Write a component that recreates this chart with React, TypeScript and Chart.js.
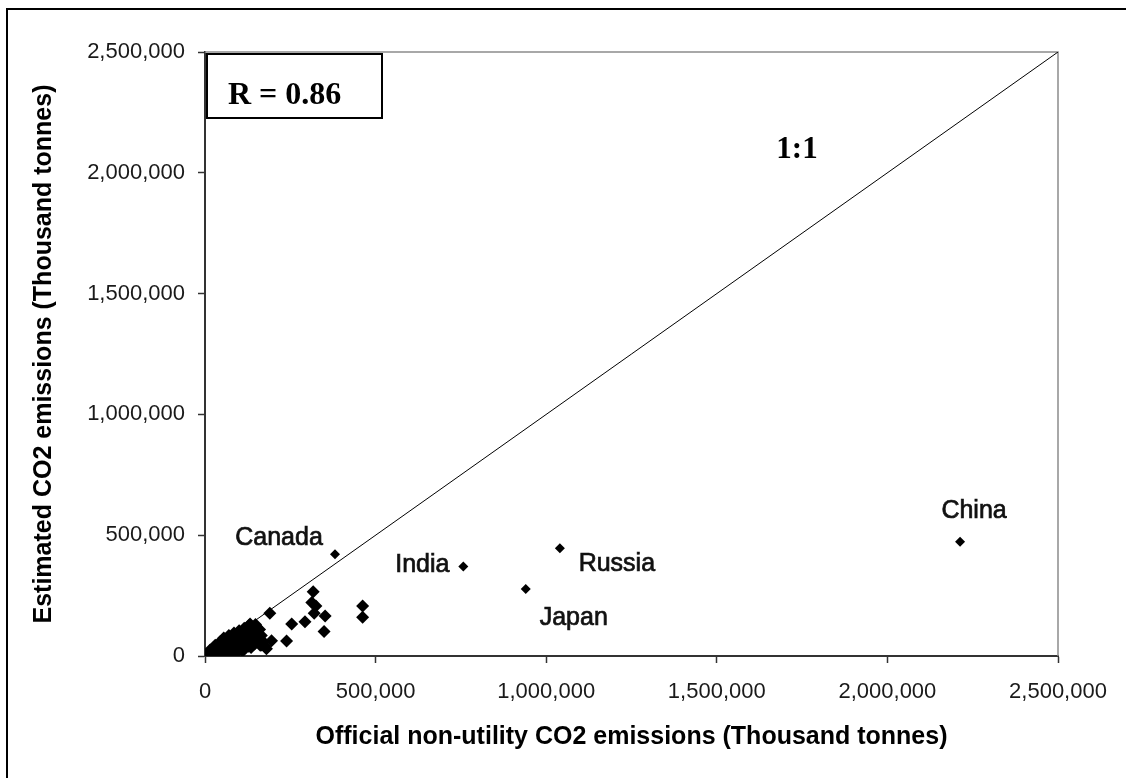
import React, { useEffect, useRef } from "react";
import { Chart, registerables } from "chart.js";

Chart.register(...registerables);

// ---- Data (thousand tonnes) ----
const axisMin = 0;
const axisMax = 2500000;
const axisStep = 500000;

const countryNames = ["Canada", "India", "Japan", "Russia", "China"];
const countryOfficial = [381000, 757000, 940000, 1040000, 2213000];
const countryEstimated = [421000, 370000, 277000, 446000, 473000];

const otherOfficial = [
  2000, 5000, 8000, 10000, 12000, 15000, 18000, 20000, 22000, 25000, 28000, 30000,
  32000, 35000, 38000, 40000, 42000, 45000, 48000, 50000, 52000, 55000, 58000, 60000,
  62000, 65000, 68000, 70000, 72000, 75000, 78000, 80000, 82000, 85000, 88000, 90000,
  92000, 95000, 98000, 100000, 105000, 108000, 110000, 115000, 118000, 120000, 125000,
  128000, 130000, 135000, 138000, 140000, 145000, 148000, 150000, 155000, 160000,
  162000, 165000, 170000, 175000, 180000,
  15000, 25000, 30000, 45000, 55000, 70000, 85000, 100000, 115000, 128000, 60000, 40000,
  110000, 135000, 90000, 75000,
  190000, 195000, 239000, 254000, 293000, 317000, 313000, 325000, 320000, 352000,
  349000, 462000, 462000, 166000, 132000, 151000, 155000,
];
const otherEstimated = [
  1000, 3000, 6000, 4000, 10000, 8000, 14000, 5000, 18000, 12000, 22000, 8000,
  26000, 15000, 30000, 20000, 10000, 35000, 25000, 40000, 15000, 30000, 45000, 20000,
  50000, 35000, 55000, 25000, 45000, 60000, 40000, 65000, 30000, 50000, 70000, 20000,
  58000, 75000, 45000, 80000, 60000, 35000, 85000, 70000, 50000, 95000, 80000,
  40000, 110000, 65000, 120000, 90000, 50000, 130000, 100000, 75000, 110000,
  45000, 85000, 60000, 40000, 30000,
  25000, 35000, 45000, 60000, 75000, 85000, 95000, 105000, 115000, 125000, 10000, 5000,
  20000, 35000, 10000, 8000,
  177000, 63000, 62000, 132000, 142000, 266000, 221000, 207000, 177000, 166000,
  101000, 207000, 160000, 46000, 132000, 121000, 87000,
];

const oneToOneX = [0, 2500000];
const oneToOneY = [0, 2500000];

const correlationText = "R = 0.86";
const oneToOneText = "1:1";
const xTitle = "Official non-utility CO2 emissions (Thousand tonnes)";
const yTitle = "Estimated CO2 emissions (Thousand tonnes)";

// label placement relative to its point (pixels)
const labelOffsets: Record<string, [number, number]> = {
  Canada: [-56, -16],
  India: [-41, -1],
  Japan: [48, 29],
  Russia: [57, 16],
  China: [14, -31],
};

const SANS = "'Liberation Sans', Arial, sans-serif";
const SERIF = "'Liberation Serif', 'Times New Roman', serif";

const fmt = (v: number) => Number(v).toLocaleString("en-US");

export default function App() {
  const ref = useRef<HTMLCanvasElement | null>(null);

  useEffect(() => {
    document.body.style.margin = "0";
    const canvas = ref.current;
    if (!canvas) return;

    const decor = {
      id: "decor",
      beforeDraw(chart: any) {
        const { ctx, width, height } = chart;
        ctx.save();
        ctx.fillStyle = "#fff";
        ctx.fillRect(0, 0, width, height);
        ctx.strokeStyle = "#000";
        ctx.lineWidth = 2;
        ctx.strokeRect(7, 9, width + 20, height + 20);
        ctx.restore();
      },
      beforeDatasetsDraw(chart: any) {
        const { ctx, chartArea: a } = chart;
        ctx.save();
        ctx.strokeStyle = "#8c8c8c";
        ctx.lineWidth = 1.5;
        ctx.beginPath();
        ctx.moveTo(a.left, a.top);
        ctx.lineTo(a.right, a.top);
        ctx.lineTo(a.right, a.bottom);
        ctx.stroke();
        ctx.restore();
      },
      afterDraw(chart: any) {
        const { ctx, chartArea: a, scales } = chart;
        ctx.save();
        // R box
        ctx.fillStyle = "#fff";
        ctx.fillRect(a.left + 2, a.top + 2, 175, 64);
        ctx.strokeStyle = "#000";
        ctx.lineWidth = 2;
        ctx.strokeRect(a.left + 2, a.top + 2, 175, 64);
        ctx.fillStyle = "#000";
        ctx.font = `bold 32px ${SERIF}`;
        ctx.textAlign = "left";
        ctx.textBaseline = "alphabetic";
        ctx.fillText(correlationText, a.left + 23, a.top + 52);
        // 1:1
        ctx.textAlign = "center";
        ctx.textBaseline = "middle";
        ctx.font = `bold 31px ${SERIF}`;
        ctx.fillText(oneToOneText, 797, 150);
        // country labels
        ctx.font = `25px ${SANS}`;
        ctx.fillStyle = "#111";
        ctx.strokeStyle = "#111";
        ctx.lineWidth = 0.7;
        countryNames.forEach((name, i) => {
          const px = scales.x.getPixelForValue(countryOfficial[i]);
          const py = scales.y.getPixelForValue(countryEstimated[i]);
          const [dx, dy] = labelOffsets[name];
          ctx.fillText(name, px + dx, py + dy);
          ctx.strokeText(name, px + dx, py + dy);
        });
        ctx.restore();
      },
    };

    const tickFont = { family: SANS, size: 22 };
    const titleFont = { family: SANS, size: 25, weight: "bold" as const };

    const chart = new Chart(canvas, {
      type: "scatter",
      data: {
        datasets: [
          {
            type: "line",
            data: oneToOneX.map((x, i) => ({ x, y: oneToOneY[i] })),
            borderColor: "#000",
            borderWidth: 1,
            pointRadius: 0,
            fill: false,
          } as any,
          {
            data: otherOfficial.map((x, i) => ({ x, y: otherEstimated[i] })),
            pointStyle: "rectRot",
            pointRadius: 6.5,
            backgroundColor: "#000",
            borderColor: "#000",
            borderWidth: 0,
          },
          {
            data: countryOfficial.map((x, i) => ({ x, y: countryEstimated[i] })),
            pointStyle: "rectRot",
            pointRadius: 5,
            backgroundColor: "#000",
            borderColor: "#000",
            borderWidth: 0,
          },
        ],
      },
      options: {
        animation: false,
        responsive: false,
        maintainAspectRatio: false,
        layout: { padding: { top: 52, right: 68, bottom: 0, left: 0 } },
        plugins: { legend: { display: false }, tooltip: { enabled: false } },
        scales: {
          x: {
            type: "linear",
            min: axisMin,
            max: axisMax,
            afterFit: (s: any) => {
              s.height = 122;
            },
            ticks: {
              stepSize: axisStep,
              callback: (v: any) => fmt(v),
              font: tickFont,
              color: "#1a1a1a",
              padding: 16,
              maxRotation: 0,
            },
            grid: {
              drawOnChartArea: false,
              drawTicks: true,
              tickLength: 7,
              tickColor: "#333",
              tickWidth: 1.5,
            },
            border: { display: true, color: "#333", width: 2 },
            title: {
              display: true,
              text: xTitle,
              font: titleFont,
              color: "#000",
              padding: { top: 0, bottom: 26 },
            },
          },
          y: {
            type: "linear",
            min: axisMin,
            max: axisMax,
            afterFit: (s: any) => {
              s.width = 205;
            },
            ticks: {
              stepSize: axisStep,
              callback: (v: any) => fmt(v),
              font: tickFont,
              color: "#1a1a1a",
              padding: 13,
            },
            grid: {
              drawOnChartArea: false,
              drawTicks: true,
              tickLength: 7,
              tickColor: "#333",
              tickWidth: 1.5,
            },
            border: { display: true, color: "#333", width: 2 },
            title: {
              display: true,
              text: yTitle,
              font: titleFont,
              color: "#000",
              padding: { top: 29, bottom: 0 },
            },
          },
        },
      },
      plugins: [decor],
    });

    return () => chart.destroy();
  }, []);

  return (
    <div style={{ width: 1126, height: 778 }}>
      <canvas ref={ref} width={1126} height={778} style={{ display: "block" }} />
    </div>
  );
}
